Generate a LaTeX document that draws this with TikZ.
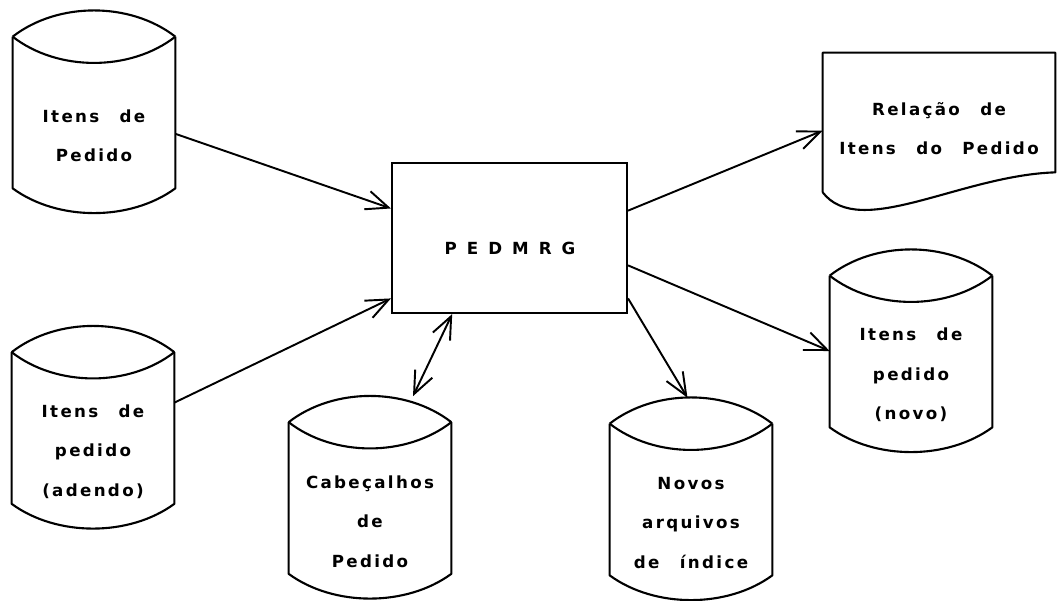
\documentclass[tikz,border=0pt]{standalone}
\usepackage{fontspec}
\setmainfont{DejaVu Sans}[LetterSpace=14,WordSpace=2.5]
\usetikzlibrary{arrows.meta,calc}

\tikzset{
  dbline/.style={line width=1.2pt, line join=round},
  dbbody/.style={rectangle, minimum width=3.24cm, minimum height=4.04cm, inner sep=0pt},
  dbtext/.style={align=center, font=\fontsize{9.5}{22.5}\selectfont\bfseries},
  flow/.style={line width=1.1pt, -{Straight Barb[length=4.5mm,width=3.8mm,line width=1.1pt]}},
  flowboth/.style={line width=1.1pt, {Straight Barb[length=4.5mm,width=3.8mm,line width=1.1pt]}-{Straight Barb[length=4.5mm,width=3.8mm,line width=1.1pt]}}
}

%% one disk file: name, centre, text
\newcommand{\dbcyl}[3]{%
  \node[dbbody] (#1) at (#2) {};
  \coordinate (#1tw) at ([yshift=-.52cm]#1.north west);
  \coordinate (#1te) at ([yshift=-.52cm]#1.north east);
  \coordinate (#1bw) at ([yshift=.5cm]#1.south west);
  \coordinate (#1be) at ([yshift=.5cm]#1.south east);
  %% lid
  \draw[dbline] (#1tw) .. controls ([xshift=.9cm,yshift=.7cm]#1tw) and ([xshift=-.9cm,yshift=.7cm]#1te) .. (#1te);
  \draw[dbline] (#1tw) .. controls ([xshift=.9cm,yshift=-.7cm]#1tw) and ([xshift=-.9cm,yshift=-.7cm]#1te) .. (#1te);
  %% side and bottom
  \draw[dbline] (#1tw) -- (#1bw) .. controls ([xshift=.9cm,yshift=-.66cm]#1bw) and ([xshift=-.9cm,yshift=-.66cm]#1be) .. (#1be) -- (#1te);
  \node[dbtext] (#1text) at ([yshift=-.48cm]#1.center) {#3};
}

\begin{document}
\begin{tikzpicture}[x=0.02cm, y=-0.02cm]
    \useasboundingbox (0,0) rectangle (1058,600);

      %%program
      \node[rectangle, draw, line width=1.2pt, minimum width=4.7cm, minimum height=3cm] (pedmrg) at (509.5,238) {};
      \node[dbtext] (pedmrgtext) at (510,248) {\addfontfeatures{LetterSpace=60}PEDMRG};

      %%input files
      \dbcyl{itens}{94,112}{Itens de\\Pedido}
      \dbcyl{adendo}{93,427.5}{Itens de\\pedido\\(adendo)}

      %%header file, read and written
      \dbcyl{cabec}{370,497.5}{Cabeçalhos\\de\\Pedido}

      %%output files
      \dbcyl{indice}{691,499}{Novos\\arquivos\\de índice}
      \dbcyl{novo}{911,351}{Itens de\\pedido\\(novo)}

      %%report
      \node[rectangle, minimum width=4.64cm, minimum height=2.78cm, inner sep=0pt] (rel) at (939,122.5) {};
      \draw[dbline] (rel.south west) -- (rel.north west) -- (rel.north east) -- ([yshift=.4cm]rel.south east)
        .. controls ($(rel.south east)+(-95,-17)$) and ($(rel.south west)+(37,48)$) .. (rel.south west);
      \node[dbtext] (reltext) at (939,128.5) {Relação de\\Itens do Pedido};

      %%flows
      \draw[flow] (itens.-15) to (pedmrg.166);
      \draw[flow] (adendo.17) to (pedmrg.207);
      \draw[flowboth] (pedmrg.233) to (cabec.67);
      \draw[flow] (pedmrg.-27) to (indice.92);
      \draw[flow] (pedmrg.-13) to (novo.west);
      \draw[flow] (pedmrg.13) to (rel.184);

\end{tikzpicture}
\end{document}
